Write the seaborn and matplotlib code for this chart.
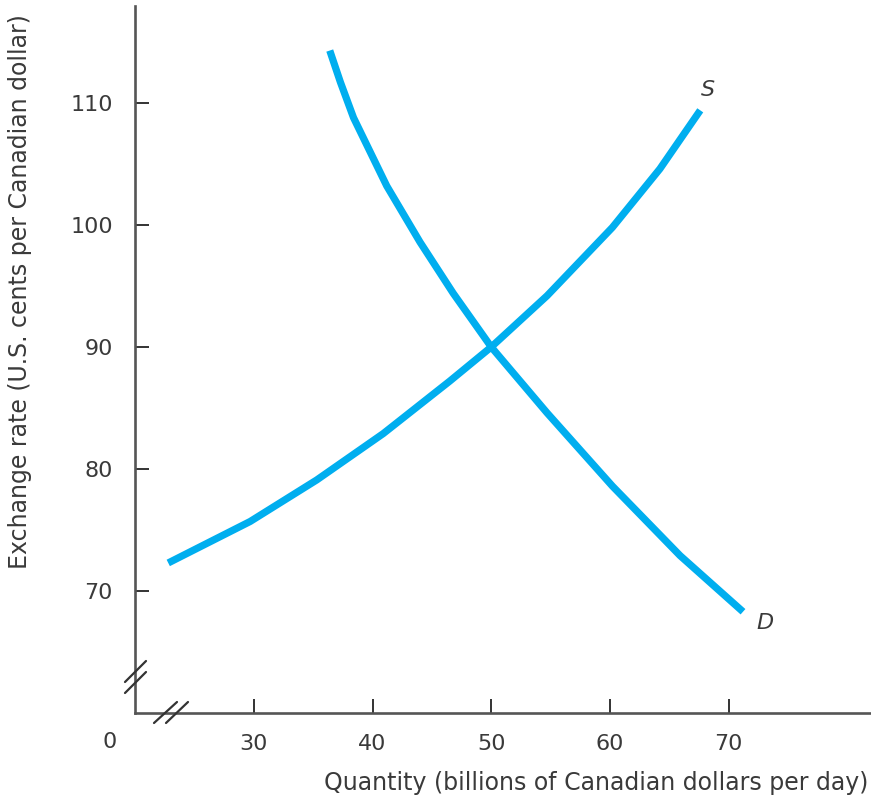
import matplotlib
matplotlib.use("Agg")
import matplotlib.pyplot as plt
import seaborn as sns
import pandas as pd
from matplotlib.lines import Line2D

# Data
supply_q = [22.8, 29.7, 35.3, 40.9, 46.5, 50.0, 54.7, 60.2, 64.2, 67.6]
supply_p = [72.3, 75.7, 79.1, 82.9, 87.2, 90.0, 94.2, 99.8, 104.6, 109.4]
demand_q = [36.4, 37.3, 38.4, 41.2, 44.0, 46.8, 50.0, 54.7, 60.2, 65.9, 71.2]
demand_p = [114.3, 111.7, 108.8, 103.2, 98.6, 94.4, 90.0, 84.6, 78.6, 72.9, 68.3]
x_ticks = [30, 40, 50, 60, 70]
y_ticks = [70, 80, 90, 100, 110]

sns.set_theme(style="white")
plt.rcParams['font.family'] = ['DejaVu Sans']

W, H = 871, 800
fig = plt.figure(figsize=(W / 100, H / 100), dpi=100)
ax_left, ax_bottom_px, ax_top_px = 135, 713, 6
ax = fig.add_axes([ax_left / W, 1 - ax_bottom_px / H, (W - ax_left) / W, (ax_bottom_px - ax_top_px) / H])

line_color = '#00AEEF'
sdf = pd.DataFrame({'q': supply_q, 'p': supply_p})
ddf = pd.DataFrame({'q': demand_q, 'p': demand_p})
sns.lineplot(data=sdf, x='q', y='p', sort=False, estimator=None, ax=ax,
             color=line_color, linewidth=5.2, solid_capstyle='butt', solid_joinstyle='round')
sns.lineplot(data=ddf, x='q', y='p', sort=False, estimator=None, ax=ax,
             color=line_color, linewidth=5.2, solid_capstyle='butt', solid_joinstyle='round')

ax.set_xlim(20, 20 + (W - ax_left) / 11.875)
ax.set_ylim(60, 60 + (ax_bottom_px - ax_top_px) / 12.2)
ax.set_xticks(x_ticks)
ax.set_yticks(y_ticks)
ax.set_xlabel('')
ax.set_ylabel('')

for s in ['top', 'right']:
    ax.spines[s].set_visible(False)
for s in ['left', 'bottom']:
    ax.spines[s].set_color('#555555')
    ax.spines[s].set_linewidth(1.9)

label_color = '#3a3a3a'
ax.tick_params(axis='both', direction='in', length=10, width=1.4, color='#333333',
               labelsize=16, labelcolor=label_color, bottom=True, left=True)
ax.tick_params(axis='y', pad=16)
ax.tick_params(axis='x', pad=15)

# Curve labels
ax.text(68.25, 111.1, 'S', fontsize=16, style='italic', color=label_color, ha='center', va='center')
ax.text(73.05, 67.4, 'D', fontsize=16, style='italic', color=label_color, ha='center', va='center')

# "0" at the origin
fig.text(110 / W, 1 - 742 / H, '0', fontsize=16, color=label_color, ha='center', va='center')

# Axis break marks
def seg(x0, y0, x1, y1):
    fig.add_artist(Line2D([x0 / W, x1 / W], [1 - y0 / H, 1 - y1 / H],
                          color='#333333', linewidth=1.6, transform=fig.transFigure))

seg(125, 682, 146, 661)
seg(125, 693, 146, 672)
seg(154, 723, 177, 702)
seg(166, 723, 188, 702)

# Axis titles
fig.text(20 / W, 1 - 292 / H, 'Exchange rate (U.S. cents per Canadian dollar)', rotation=90,
         fontsize=17, color=label_color, ha='center', va='center')
fig.text(868 / W, 1 - 783 / H, 'Quantity (billions of Canadian dollars per day)',
         fontsize=17, color=label_color, ha='right', va='center')

fig.savefig('out.png', dpi=100)
